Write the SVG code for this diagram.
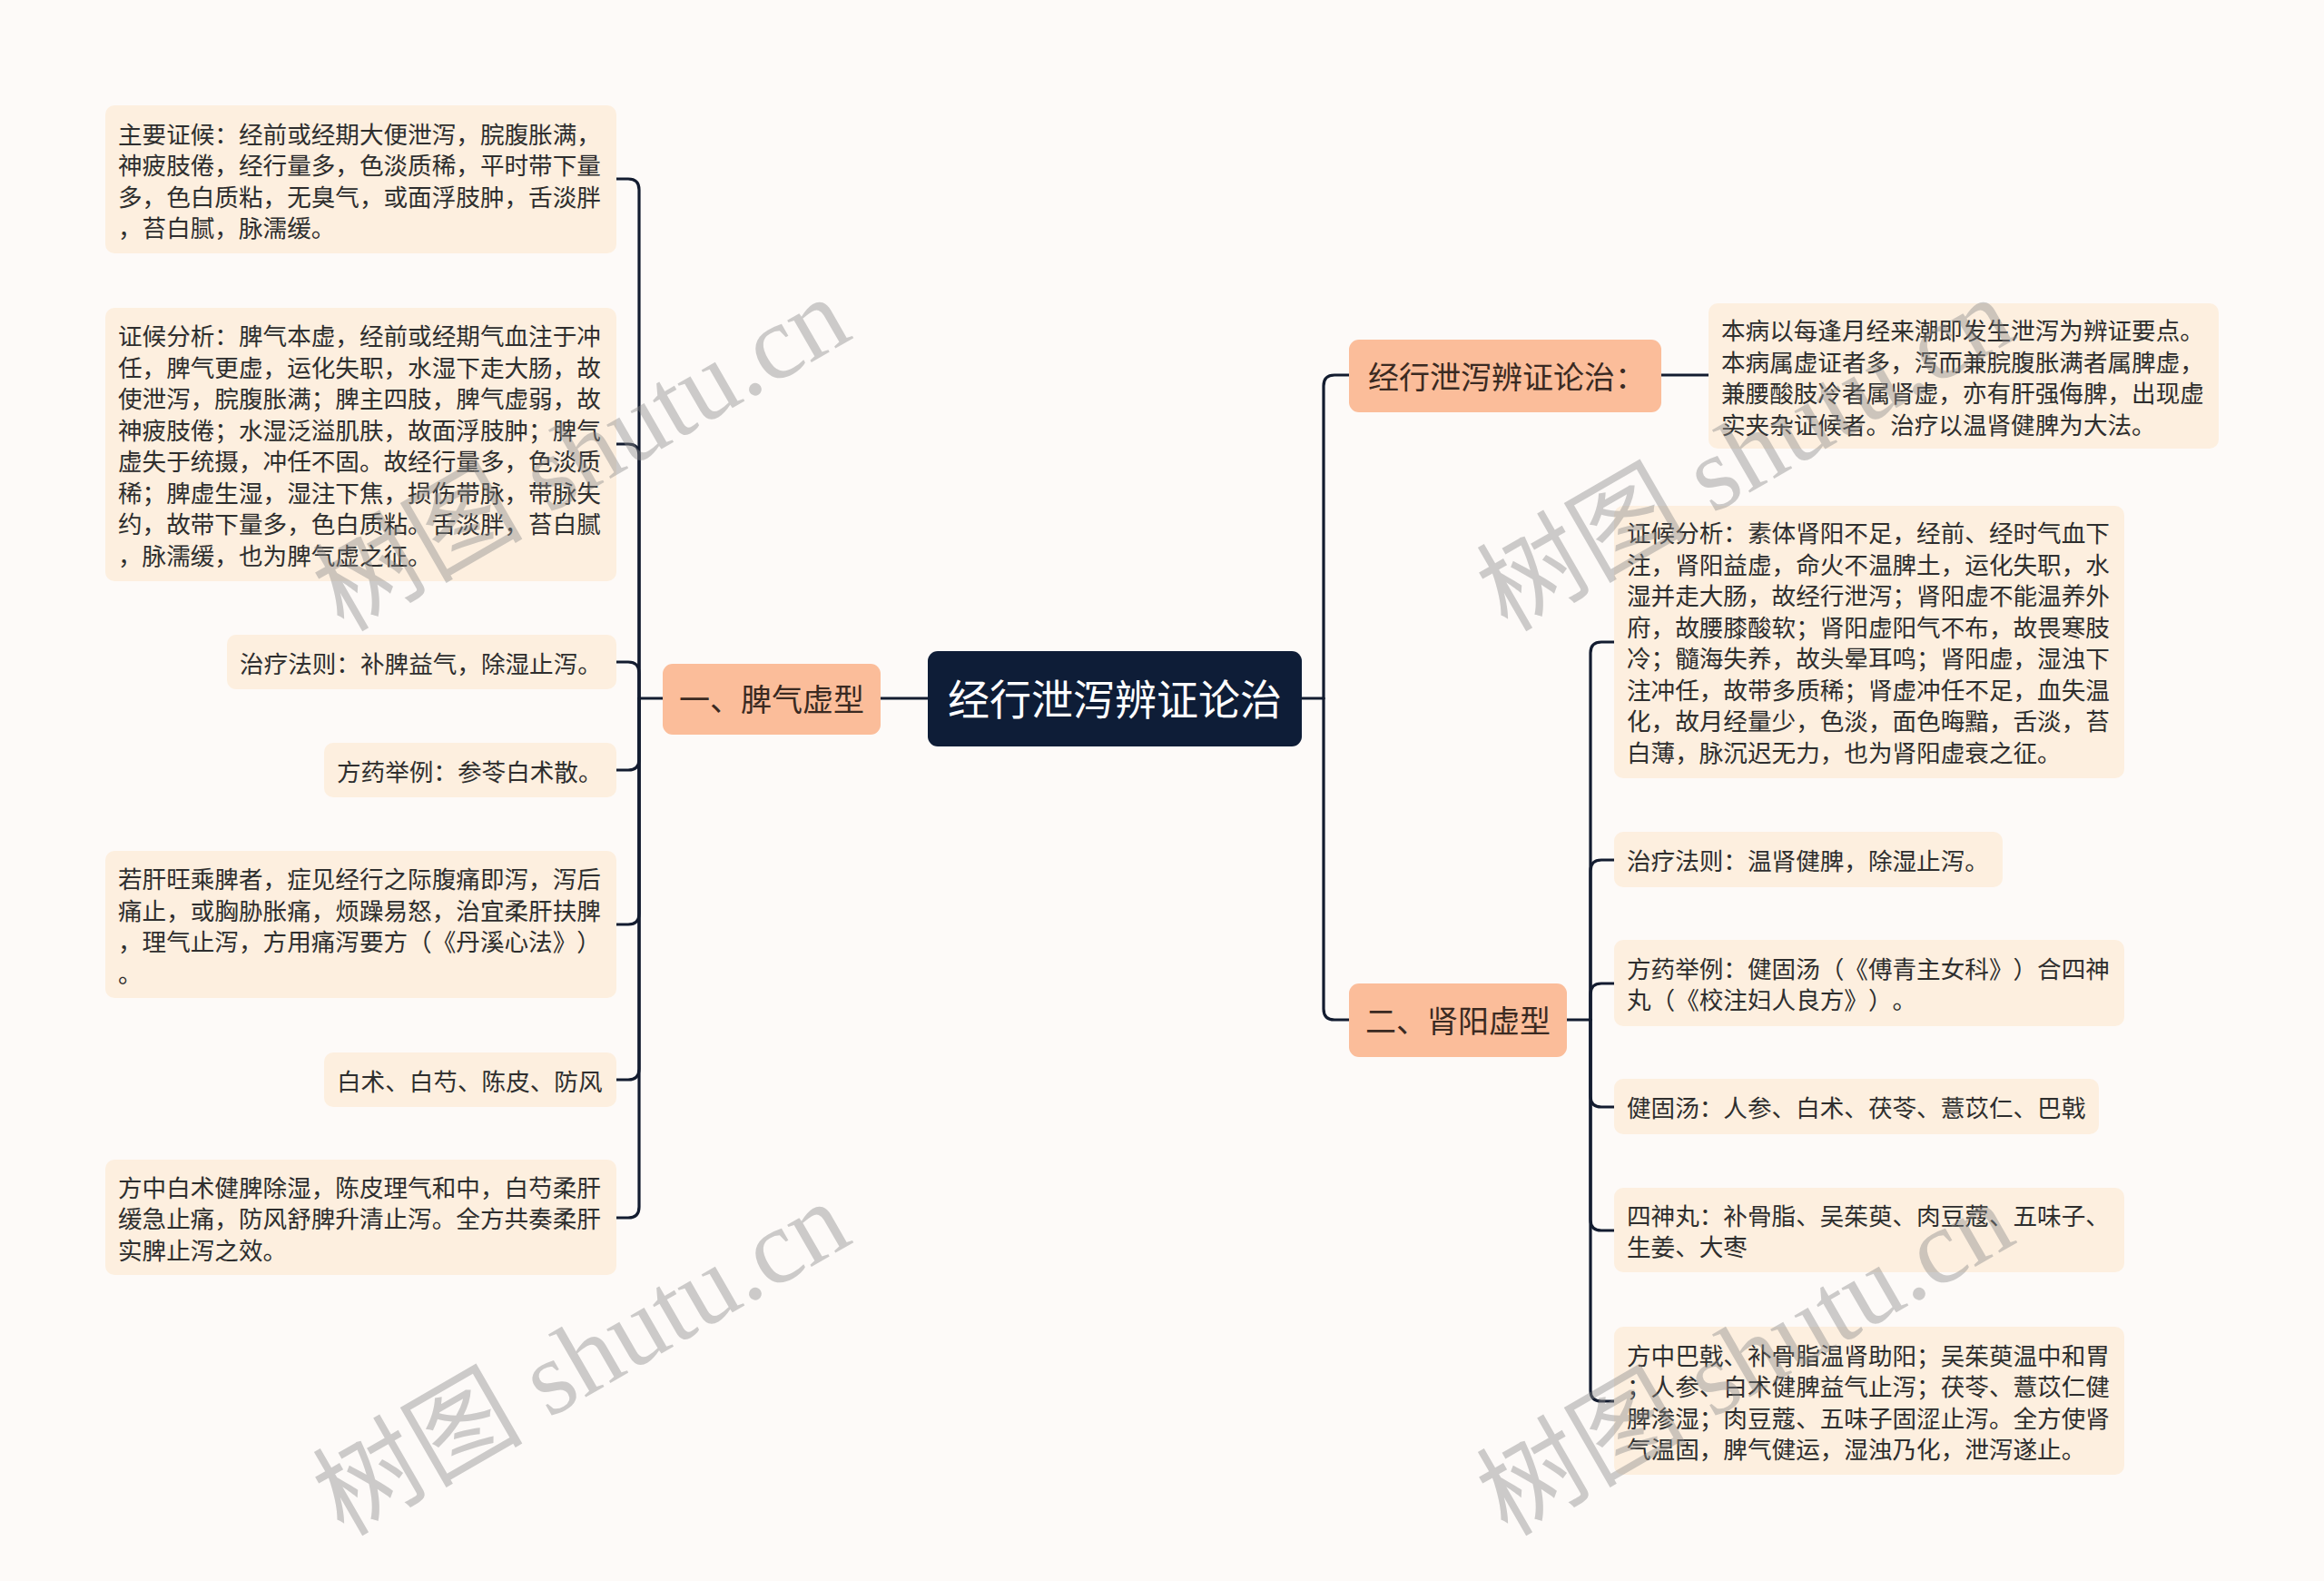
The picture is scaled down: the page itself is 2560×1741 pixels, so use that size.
<svg xmlns="http://www.w3.org/2000/svg" width="2560" height="1741" viewBox="0 0 2560 1741">
<style>
.bg{fill:#fdfaf8}
.leaf{fill:#fdefdf}
.br{fill:#fbbd9a}
.root{fill:#0e1d37}
text{text-spacing-trim:space-all;font-kerning:none}
.t{font-family:"Noto Sans CJK SC","Noto Sans",sans-serif;font-size:26.6px;fill:#2e2e2e;dominant-baseline:central}
.bt{font-family:"Noto Sans CJK SC","Noto Sans",sans-serif;font-size:34px;fill:#3a2a22;dominant-baseline:central;text-anchor:middle}
.rt{font-family:"Noto Sans CJK SC","Noto Sans",sans-serif;font-size:46px;fill:#ffffff;dominant-baseline:central;text-anchor:middle}
.ln{fill:none;stroke:#131c30;stroke-width:3.2;stroke-linecap:round}
.wm{font-family:"Liberation Serif","Noto Sans CJK SC",serif;font-size:116px;fill:#8a8a8a;opacity:0.42;text-anchor:middle}
</style>
<rect class="bg" x="0" y="0" width="2560" height="1741"/>

<g id="connectors">
  <path class="ln" d="M1022 769 L970 769"/>
  <path class="ln" d="M730 769 L704 769"/>
  <path class="ln" d="M704 769 L704 209 Q704 197 692 197 L679 197"/>
  <path class="ln" d="M704 769 L704 501 Q704 489 692 489 L679 489"/>
  <path class="ln" d="M704 769 L704 741 Q704 729 692 729 L679 729"/>
  <path class="ln" d="M704 769 L704 836 Q704 848 692 848 L679 848"/>
  <path class="ln" d="M704 769 L704 1006 Q704 1018 692 1018 L679 1018"/>
  <path class="ln" d="M704 769 L704 1177 Q704 1189 692 1189 L679 1189"/>
  <path class="ln" d="M704 769 L704 1329 Q704 1341 692 1341 L679 1341"/>
  <path class="ln" d="M1434 769 L1458 769"/>
  <path class="ln" d="M1458 769 L1458 425 Q1458 413 1470 413 L1486 413"/>
  <path class="ln" d="M1458 769 L1458 1111 Q1458 1123 1470 1123 L1486 1123"/>
  <path class="ln" d="M1830 413 L1882 413"/>
  <path class="ln" d="M1726 1123 L1752 1123"/>
  <path class="ln" d="M1752 1123 L1752 719 Q1752 707 1764 707 L1778 707"/>
  <path class="ln" d="M1752 1123 L1752 959 Q1752 947 1764 947 L1778 947"/>
  <path class="ln" d="M1752 1123 L1752 1095 Q1752 1083 1764 1083 L1778 1083"/>
  <path class="ln" d="M1752 1123 L1752 1207 Q1752 1219 1764 1219 L1778 1219"/>
  <path class="ln" d="M1752 1123 L1752 1343 Q1752 1355 1764 1355 L1778 1355"/>
  <path class="ln" d="M1752 1123 L1752 1531 Q1752 1543 1764 1543 L1778 1543"/>
</g>

<g id="root">
  <rect class="root" x="1022" y="717" width="412" height="105" rx="11"/>
  <text class="rt" x="1228" y="767">经行泄泻辨证论治</text>
</g>

<g id="branch-pi">
  <rect class="br" x="730" y="731" width="240" height="78" rx="11"/>
  <text class="bt" x="850" y="768.5">一、脾气虚型</text>
</g>

<g id="branch-summary">
  <rect class="br" x="1486" y="374" width="344" height="80" rx="11"/>
  <text class="bt" x="1660" y="413">经行泄泻辨证论治：</text>
</g>

<g id="branch-shen">
  <rect class="br" x="1486" y="1083" width="240" height="81" rx="11"/>
  <text class="bt" x="1606" y="1122.5">二、肾阳虚型</text>
</g>

<g id="L1">
  <rect class="leaf" x="116" y="116" width="563" height="163" rx="10"/>
  <text class="t" x="130" y="146">主要证候：经前或经期大便泄泻，脘腹胀满，</text>
  <text class="t" x="130" y="180.5">神疲肢倦，经行量多，色淡质稀，平时带下量</text>
  <text class="t" x="130" y="215">多，色白质粘，无臭气，或面浮肢肿，舌淡胖</text>
  <text class="t" x="130" y="249.5">，苔白腻，脉濡缓。</text>
</g>

<g id="L2">
  <rect class="leaf" x="116" y="339" width="563" height="301" rx="10"/>
  <text class="t" x="130" y="368.5">证候分析：脾气本虚，经前或经期气血注于冲</text>
  <text class="t" x="130" y="403">任，脾气更虚，运化失职，水湿下走大肠，故</text>
  <text class="t" x="130" y="437.5">使泄泻，脘腹胀满；脾主四肢，脾气虚弱，故</text>
  <text class="t" x="130" y="472">神疲肢倦；水湿泛溢肌肤，故面浮肢肿；脾气</text>
  <text class="t" x="130" y="506.5">虚失于统摄，冲任不固。故经行量多，色淡质</text>
  <text class="t" x="130" y="541">稀；脾虚生湿，湿注下焦，损伤带脉，带脉失</text>
  <text class="t" x="130" y="575.5">约，故带下量多，色白质粘。舌淡胖，苔白腻</text>
  <text class="t" x="130" y="610">，脉濡缓，也为脾气虚之征。</text>
</g>

<g id="L3">
  <rect class="leaf" x="250" y="699" width="429" height="60" rx="10"/>
  <text class="t" x="264" y="729">治疗法则：补脾益气，除湿止泻。</text>
</g>

<g id="L4">
  <rect class="leaf" x="357" y="818" width="322" height="60" rx="10"/>
  <text class="t" x="371" y="848">方药举例：参苓白术散。</text>
</g>

<g id="L5">
  <rect class="leaf" x="116" y="937" width="563" height="162" rx="10"/>
  <text class="t" x="130" y="966.5">若肝旺乘脾者，症见经行之际腹痛即泻，泻后</text>
  <text class="t" x="130" y="1001">痛止，或胸胁胀痛，烦躁易怒，治宜柔肝扶脾</text>
  <text class="t" x="130" y="1035.5">，理气止泻，方用痛泻要方（《丹溪心法》）</text>
  <text class="t" x="130" y="1070">。</text>
</g>

<g id="L6">
  <rect class="leaf" x="357" y="1159" width="322" height="60" rx="10"/>
  <text class="t" x="371" y="1189">白术、白芍、陈皮、防风</text>
</g>

<g id="L7">
  <rect class="leaf" x="116" y="1277" width="563" height="127" rx="10"/>
  <text class="t" x="130" y="1306">方中白术健脾除湿，陈皮理气和中，白芍柔肝</text>
  <text class="t" x="130" y="1340.5">缓急止痛，防风舒脾升清止泻。全方共奏柔肝</text>
  <text class="t" x="130" y="1375">实脾止泻之效。</text>
</g>

<g id="R0">
  <rect class="leaf" x="1882" y="334" width="562" height="160" rx="10"/>
  <text class="t" x="1896" y="362.5">本病以每逢月经来潮即发生泄泻为辨证要点。</text>
  <text class="t" x="1896" y="397">本病属虚证者多，泻而兼脘腹胀满者属脾虚，</text>
  <text class="t" x="1896" y="431.5">兼腰酸肢冷者属肾虚，亦有肝强侮脾，出现虚</text>
  <text class="t" x="1896" y="466">实夹杂证候者。治疗以温肾健脾为大法。</text>
</g>

<g id="R1">
  <rect class="leaf" x="1778" y="557" width="562" height="300" rx="10"/>
  <text class="t" x="1792" y="585.5">证候分析：素体肾阳不足，经前、经时气血下</text>
  <text class="t" x="1792" y="620">注，肾阳益虚，命火不温脾土，运化失职，水</text>
  <text class="t" x="1792" y="654.5">湿并走大肠，故经行泄泻；肾阳虚不能温养外</text>
  <text class="t" x="1792" y="689">府，故腰膝酸软；肾阳虚阳气不布，故畏寒肢</text>
  <text class="t" x="1792" y="723.5">冷；髓海失养，故头晕耳鸣；肾阳虚，湿浊下</text>
  <text class="t" x="1792" y="758">注冲任，故带多质稀；肾虚冲任不足，血失温</text>
  <text class="t" x="1792" y="792.5">化，故月经量少，色淡，面色晦黯，舌淡，苔</text>
  <text class="t" x="1792" y="827">白薄，脉沉迟无力，也为肾阳虚衰之征。</text>
</g>

<g id="R2">
  <rect class="leaf" x="1778" y="916" width="428" height="61" rx="10"/>
  <text class="t" x="1792" y="946">治疗法则：温肾健脾，除湿止泻。</text>
</g>

<g id="R3">
  <rect class="leaf" x="1778" y="1035" width="562" height="95" rx="10"/>
  <text class="t" x="1792" y="1065">方药举例：健固汤（《傅青主女科》）合四神</text>
  <text class="t" x="1792" y="1099.5">丸（《校注妇人良方》）。</text>
</g>

<g id="R4">
  <rect class="leaf" x="1778" y="1188" width="534" height="61" rx="10"/>
  <text class="t" x="1792" y="1218">健固汤：人参、白术、茯苓、薏苡仁、巴戟</text>
</g>

<g id="R5">
  <rect class="leaf" x="1778" y="1308" width="562" height="93" rx="10"/>
  <text class="t" x="1792" y="1337">四神丸：补骨脂、吴茱萸、肉豆蔻、五味子、</text>
  <text class="t" x="1792" y="1371.5">生姜、大枣</text>
</g>

<g id="R6">
  <rect class="leaf" x="1778" y="1461" width="562" height="163" rx="10"/>
  <text class="t" x="1792" y="1491">方中巴戟、补骨脂温肾助阳；吴茱萸温中和胃</text>
  <text class="t" x="1792" y="1525.5">；人参、白术健脾益气止泻；茯苓、薏苡仁健</text>
  <text class="t" x="1792" y="1560">脾渗湿；肉豆蔻、五味子固涩止泻。全方使肾</text>
  <text class="t" x="1792" y="1594.5">气温固，脾气健运，湿浊乃化，泄泻遂止。</text>
</g>

<g id="watermarks">
  <text class="wm" x="660" y="534" transform="rotate(-30 660 534)">树图 shutu.cn</text>
  <text class="wm" x="660" y="1530" transform="rotate(-30 660 1530)">树图 shutu.cn</text>
  <text class="wm" x="1942" y="534" transform="rotate(-30 1942 534)">树图 shutu.cn</text>
  <text class="wm" x="1942" y="1530" transform="rotate(-30 1942 1530)">树图 shutu.cn</text>
</g>
</svg>
